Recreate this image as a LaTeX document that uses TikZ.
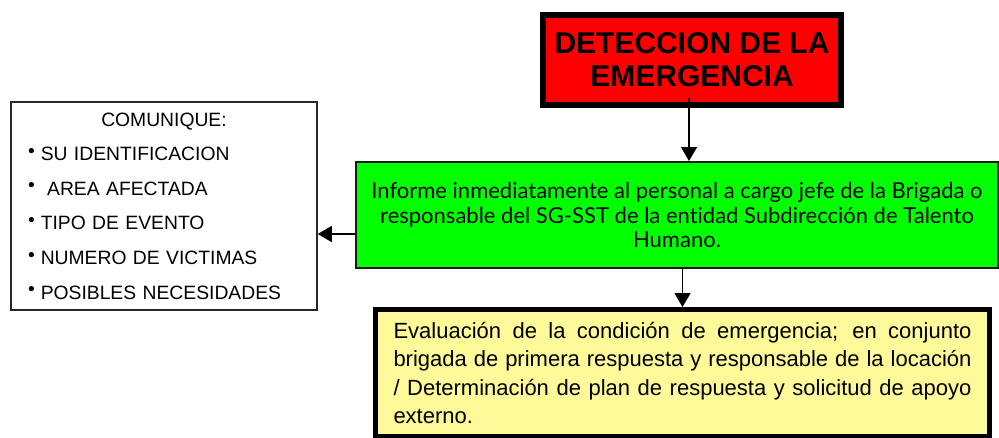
\documentclass[tikz,border=0pt]{standalone}
\usepackage{fontspec}
\setmainfont{Liberation Sans}
\newfontfamily\gillfont[Ligatures=NoCommon]{Lato}
\usetikzlibrary{arrows.meta}
\newcommand{\listdot}{\raisebox{3.5pt}{\textbullet}\hspace{6pt}}

\begin{document}
\begin{tikzpicture}[%
  x=1pt, y=-1pt,
  redbox/.style={draw=black, line width=6pt, fill=red, minimum width=298pt,
    minimum height=90pt, align=center, font=\fontsize{30}{33}\selectfont\bfseries},
  greenbox/.style={draw=black!90, line width=2pt, fill=green, minimum width=642pt,
    minimum height=106pt, align=center, font=\gillfont\fontsize{22}{24.5}\selectfont},
  yellowbox/.style={draw=black, line width=5pt, fill=yellow!40, minimum width=614pt,
    minimum height=127pt, text width=578pt, align=justify, font=\fontsize{22}{28.3}\selectfont},
  listbox/.style={draw=black!85, line width=1.5pt, minimum width=306pt,
    minimum height=208pt, text width=272pt, align=left, font=\fontsize{19.3}{34.6}\selectfont},
  flow/.style={line width=1.5pt, -{Triangle[length=14pt,width=16pt]}}]
\useasboundingbox (0,0) rectangle (999,437);

\node[redbox] (detect) at (692,60) {DETECCION DE LA\\EMERGENCIA};
\node[greenbox] (informe) at (677,215)
  {Informe inmediatamente al personal a cargo jefe de la Brigada o\\
   responsable del SG-SST de la entidad Subdirección de Talento\\
   Humano.};
\node[listbox] (comunique) at (164,206)
  {\makebox[272pt]{COMUNIQUE:}\\
   \listdot SU IDENTIFICACION\\
   \listdot\ AREA AFECTADA\\
   \listdot TIPO DE EVENTO\\
   \listdot NUMERO DE VICTIMAS\\
   \listdot POSIBLES NECESIDADES};
\node[yellowbox] (evaluacion) at (682.5,373)
  {\makebox[578pt][s]{Evaluación de la condición de emergencia; en conjunto}\\
   \makebox[578pt][s]{brigada de primera respuesta y responsable de la locación}\\
   \makebox[578pt][s]{/ Determinación de plan de respuesta y solicitud de apoyo}\\
   externo.};

% flechas
\draw[flow] ([xshift=-3pt,yshift=10pt]detect.south) -- ([xshift=-3pt]detect.south |- informe.north);
\draw[flow] (informe.south -| evaluacion.north) -- (evaluacion.north);
\draw[flow] ([yshift=-19pt]informe.west) -- ([yshift=-19pt]informe.west -| comunique.east);
\end{tikzpicture}
\end{document}
